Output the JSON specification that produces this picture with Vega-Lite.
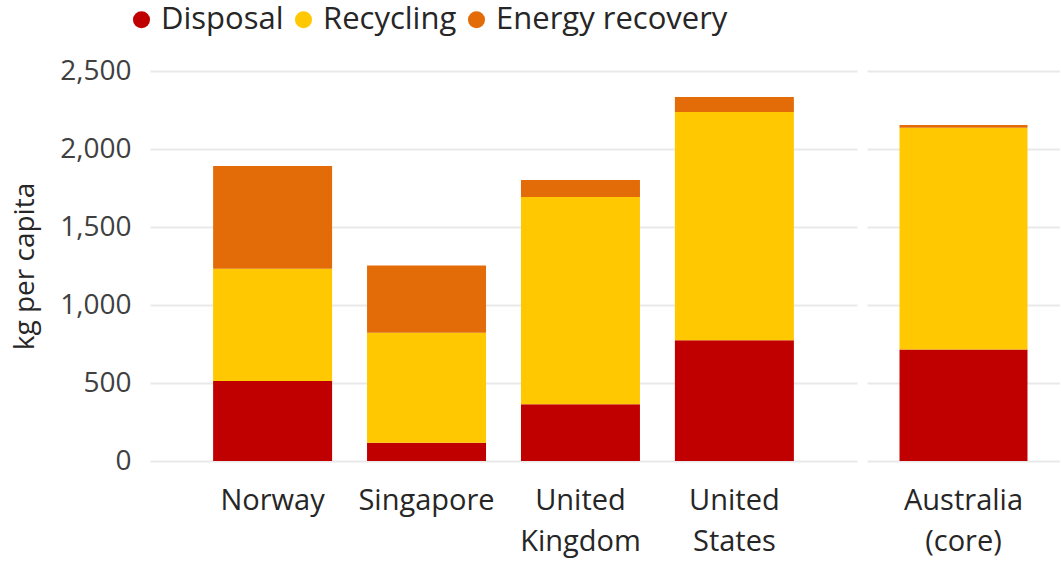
{
  "$schema": "https://vega.github.io/schema/vega-lite/v6.json",
  "padding": {"left": 11, "top": 4, "right": 0, "bottom": 8},
  "background": "white",
  "config": {
    "font": "Open Sans",
    "view": {"stroke": null},
    "axis": {"labelFont": "Open Sans", "titleFont": "Open Sans", "gridColor": "#e9e9e9", "gridWidth": 2, "domain": false, "ticks": false, "tickSize": 0},
    "legend": {"labelFont": "Open Sans"}
  },
  "datasets": {
    "main": [
      {"country": "Norway", "category": "Disposal", "value": 513},
      {"country": "Norway", "category": "Recycling", "value": 720},
      {"country": "Norway", "category": "Energy recovery", "value": 658},
      {"country": "Singapore", "category": "Disposal", "value": 117},
      {"country": "Singapore", "category": "Recycling", "value": 705},
      {"country": "Singapore", "category": "Energy recovery", "value": 432},
      {"country": "United Kingdom", "category": "Disposal", "value": 363},
      {"country": "United Kingdom", "category": "Recycling", "value": 1329},
      {"country": "United Kingdom", "category": "Energy recovery", "value": 109},
      {"country": "United States", "category": "Disposal", "value": 774},
      {"country": "United States", "category": "Recycling", "value": 1463},
      {"country": "United States", "category": "Energy recovery", "value": 96}
    ],
    "aus": [
      {"country": "Australia (core)", "category": "Disposal", "value": 714},
      {"country": "Australia (core)", "category": "Recycling", "value": 1423},
      {"country": "Australia (core)", "category": "Energy recovery", "value": 17}
    ]
  },
  "spacing": 10,
  "hconcat": [
    {
      "data": {"name": "main"},
      "transform": [{"calculate": "indexof(['Disposal', 'Recycling', 'Energy recovery'], datum.category)", "as": "stackKey"}],
      "width": 707,
      "height": 390,
      "mark": {"type": "bar"},
      "encoding": {
        "x": {
          "field": "country", "type": "nominal", "sort": null,
          "scale": {"paddingInner": 0.227, "paddingOuter": 0.41},
          "axis": {"title": null, "labelAngle": 0, "labelFontSize": 29, "labelColor": "#262626", "labelPadding": 25, "labelLineHeight": 41, "labelBaseline": "top", "grid": false, "labelExpr": "split(datum.label, ' ')"}
        },
        "y": {
          "field": "value", "type": "quantitative", "aggregate": "sum", "stack": "zero",
          "scale": {"domain": [0, 2500], "nice": false},
          "axis": {"title": "kg per capita", "values": [0, 500, 1000, 1500, 2000, 2500], "format": ",.0f", "labelFontSize": 28, "labelColor": "#404040", "labelPadding": 19, "titleFontSize": 28, "titleFontWeight": "normal", "titleColor": "#262626", "titlePadding": 20}
        },
        "order": {"field": "stackKey", "type": "quantitative"},
        "color": {
          "field": "category", "type": "nominal",
          "scale": {"domain": ["Disposal", "Recycling", "Energy recovery"], "range": ["#C00000", "#FFC800", "#E36C09"]},
          "legend": {"title": null, "orient": "none", "legendX": -24, "legendY": -67, "direction": "horizontal", "symbolType": "circle", "symbolSize": 290, "labelFontSize": 31, "labelLimit": 400, "labelColor": "#262626", "labelOffset": 4, "columnPadding": 4, "symbolStrokeWidth": 0}
        }
      }
    },
    {
      "data": {"name": "aus"},
      "transform": [{"calculate": "indexof(['Disposal', 'Recycling', 'Energy recovery'], datum.category)", "as": "stackKey"}],
      "width": 193,
      "height": 390,
      "mark": {"type": "bar"},
      "encoding": {
        "x": {
          "field": "country", "type": "nominal",
          "scale": {"paddingInner": 0, "paddingOuter": 0.254},
          "axis": {"title": null, "labelAngle": 0, "labelFontSize": 29, "labelColor": "#262626", "labelPadding": 25, "labelLineHeight": 41, "labelBaseline": "top", "grid": false, "labelExpr": "split(datum.label, ' ')"}
        },
        "y": {
          "field": "value", "type": "quantitative", "aggregate": "sum", "stack": "zero",
          "scale": {"domain": [0, 2500], "nice": false},
          "axis": {"title": null, "labels": false, "values": [0, 500, 1000, 1500, 2000, 2500]}
        },
        "order": {"field": "stackKey", "type": "quantitative"},
        "color": {
          "field": "category", "type": "nominal",
          "scale": {"domain": ["Disposal", "Recycling", "Energy recovery"], "range": ["#C00000", "#FFC800", "#E36C09"]},
          "legend": null
        }
      }
    }
  ]
}
